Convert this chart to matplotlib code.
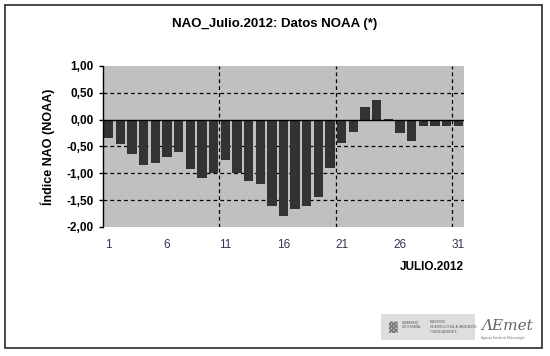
import matplotlib
matplotlib.use("Agg")
import matplotlib.pyplot as plt
from matplotlib.patches import Rectangle

plt.rcParams['font.family'] = ['Liberation Sans', 'DejaVu Sans']

days = list(range(1, 32))
nao = [-0.34, -0.45, -0.64, -0.85, -0.81, -0.70, -0.60, -0.91, -1.08, -0.99,
       -0.76, -0.99, -1.14, -1.19, -1.61, -1.80, -1.66, -1.60, -1.44, -0.90,
       -0.44, -0.23, 0.23, 0.36, 0.01, -0.25, -0.39, -0.12, -0.12, -0.12, -0.12]
xtick_days = [1, 6, 11, 16, 21, 26, 31]
yticks = [1.0, 0.5, 0.0, -0.5, -1.0, -1.5, -2.0]
ytick_labels = ["1,00", "0,50", "0,00", "-0,50", "-1,00", "-1,50", "-2,00"]

W, H = 550, 356
fig = plt.figure(figsize=(5.5, 3.56), dpi=100)
fig.patch.set_facecolor("white")

# outer frame
fig.patches.append(Rectangle((5 / W, 1 - 348 / H), 537 / W, 343 / H,
                             transform=fig.transFigure, fill=False,
                             edgecolor="#3a3a3a", linewidth=1.3))

ax = fig.add_axes([103 / W, 1 - 227 / H, 361 / W, 161 / H])
ax.set_facecolor("#c0c0c0")
ax.set_xlim(0.5, 31.5)
ax.set_ylim(-2.0, 1.0)

# grid lines
for yv in [0.5, -0.5, -1.0, -1.5]:
    ax.axhline(yv, color="black", linestyle=(0, (3, 2.5)), linewidth=0.9, zorder=1)
for xv in [10.5, 20.5, 30.5]:
    ax.axvline(xv, color="black", linestyle=(0, (3, 2.5)), linewidth=0.9, zorder=1)

ax.bar(days, nao, width=0.8, color="#333333", zorder=2)
ax.axhline(0, color="black", linewidth=1.0, zorder=3)

for s in ["top", "right", "bottom"]:
    ax.spines[s].set_visible(False)
ax.spines["left"].set_linewidth(1.0)
ax.spines["left"].set_color("black")

ax.set_yticks(yticks)
ax.set_yticklabels(ytick_labels, fontsize=8.5, fontweight="bold")
ax.tick_params(axis="y", direction="out", length=3, width=1.0, pad=4)
ax.set_xticks(xtick_days)
ax.set_xticklabels([str(d) for d in xtick_days], fontsize=8.5, color="#3c2f4f")
ax.tick_params(axis="x", length=0, pad=9)

fig.text(48 / W, 1 - 147 / H, "Índice NAO (NOAA)", rotation=90, ha="center",
         va="center", fontsize=9, fontweight="bold")
fig.text(275 / W, 1 - 24 / H, "NAO_Julio.2012: Datos NOAA (*)", ha="center",
         va="center", fontsize=9.5, fontweight="bold")
fig.text(464 / W, 1 - 267 / H, "JULIO.2012", ha="right", va="center",
         fontsize=8.5, fontweight="bold")

# logos (approximation)
fig.patches.append(Rectangle((381 / W, 1 - 340 / H), 94 / W, 26 / H,
                             transform=fig.transFigure, facecolor="#dedede",
                             edgecolor="none"))
fig.text(392 / W, 1 - 327 / H, "▓", ha="center", va="center", fontsize=8,
         color="#777777", family="DejaVu Sans")
fig.text(402 / W, 1 - 325 / H, "GOBIERNO\nDE ESPAÑA", ha="left", va="center",
         fontsize=2.3, color="#555555")
fig.text(430 / W, 1 - 327 / H, "MINISTERIO\nDE AGRICULTURA, ALIMENTACIÓN\nY MEDIO AMBIENTE",
         ha="left", va="center", fontsize=2.0, color="#555555")
fig.text(481 / W, 1 - 326 / H, "ΛEmet", ha="left", va="center", fontsize=11,
         style="italic", color="#666666", family="DejaVu Serif")
fig.text(481 / W, 1 - 338 / H, "Agencia Estatal de Meteorología", ha="left",
         va="center", fontsize=2.2, color="#777777")

fig.savefig("out.png", dpi=100)
